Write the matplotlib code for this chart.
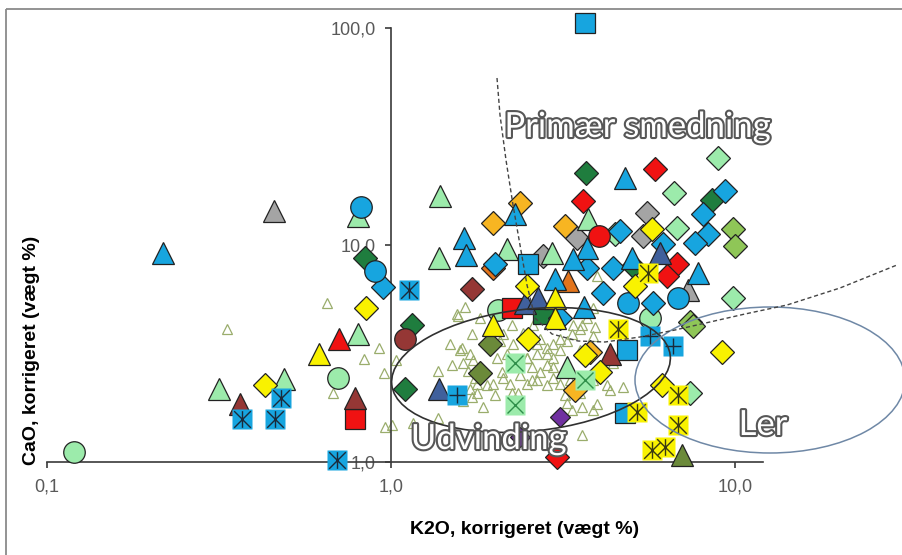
import matplotlib
matplotlib.use("Agg")
import numpy as np
import matplotlib.pyplot as plt
import matplotlib.patheffects as pe
from matplotlib.patches import Ellipse, Rectangle
from matplotlib.path import Path
from matplotlib.transforms import Affine2D
from matplotlib.ticker import NullLocator

# K2O (x) and CaO (y), both corrected weight %
blue_diamonds = [(0.95, 6.4), (2.01, 8.2), (3.71, 7.8), (4.42, 7.8), (4.13, 6.0), (5.78, 5.4),
                 (6.18, 10.1), (8.07, 13.9), (8.35, 11.2), (7.65, 10.2), (9.35, 17.7), (4.63, 11.6),
                 (3.10, 4.6)]
blue_triangles = [(0.217, 9.2), (1.63, 10.8), (1.65, 9.0), (2.29, 13.9), (4.79, 20.3), (3.00, 7.0),
                  (3.71, 9.7), (5.02, 8.7), (7.80, 7.4), (3.64, 5.2), (3.38, 8.6)]
blue_circles = [(0.82, 14.9), (0.90, 7.6), (4.89, 5.4), (6.83, 5.7)]
blue_squares = [(3.66, 105.0), (2.50, 8.2), (4.85, 3.27), (4.79, 1.68)]
blue_star_squares = [(1.13, 6.2), (0.369, 1.57), (0.46, 1.57), (0.479, 1.97), (0.697, 1.02)]
blue_plus_squares = [(1.555, 2.03), (5.66, 3.8), (6.60, 3.44)]

lgreen_triangles = [(0.80, 13.6), (1.39, 16.8), (1.38, 8.7), (2.17, 9.6), (2.94, 9.2), (3.74, 13.2),
                    (0.80, 3.9), (0.316, 2.16), (0.49, 2.4), (3.25, 2.73)]
lgreen_circles = [(0.12, 1.11), (0.70, 2.45), (5.66, 4.6), (2.05, 5.0)]
lgreen_diamonds = [(8.9, 25.1), (6.65, 17.3), (4.48, 11.2), (6.78, 12.0), (9.87, 5.7), (7.40, 2.07)]
lgreen_x_squares = [(2.29, 2.85), (2.29, 1.83), (3.66, 2.38)]

dgreen_diamonds = [(0.84, 8.7), (1.15, 4.3), (1.10, 2.16), (3.69, 21.4), (8.57, 16.1), (5.05, 8.0)]
dgreen_squares = [(2.77, 4.8)]
olive_diamonds = [(9.87, 11.8), (10.0, 9.9), (7.40, 4.4), (7.55, 4.25)]
dolive_diamonds = [(1.94, 3.5), (1.81, 2.56)]
dolive_triangles = [(7.01, 1.08)]

orange_diamonds = [(2.37, 15.6), (1.98, 12.6), (3.2, 12.2), (3.43, 2.14), (3.8, 3.2)]
rust_diamonds = [(1.98, 7.8)]
rust_triangles = [(3.27, 6.8)]
gray_diamonds = [(2.77, 8.9), (3.47, 10.8), (5.55, 14.0), (5.40, 11.0)]
gray_triangles = [(0.457, 14.3), (7.30, 6.2)]

red_diamonds = [(5.85, 22.3), (3.62, 15.9), (6.78, 8.2), (6.34, 7.2), (3.04, 1.05)]
red_circles = [(4.03, 11.0)]
red_triangles = [(0.706, 3.67)]
red_squares = [(0.786, 1.57), (2.25, 5.1)]
dred_triangles = [(0.364, 1.86), (0.786, 1.97), (4.33, 3.16)]
dred_diamonds = [(1.72, 6.3)]
dred_circles = [(1.10, 3.7)]

yellow_diamonds = [(0.846, 5.1), (0.43, 2.26), (2.49, 6.5), (2.50, 3.7), (5.12, 6.5), (3.66, 3.1),
                   (4.05, 2.59), (9.17, 3.2), (6.14, 2.26), (5.74, 11.8)]
yellow_triangles = [(0.618, 3.16), (1.98, 4.3), (3.0, 5.7), (3.0, 4.6)]
yellow_star_squares = [(4.57, 4.1), (5.59, 7.4), (5.19, 1.70), (6.83, 2.03), (6.83, 1.48),
                       (5.74, 1.14), (6.26, 1.17)]
slate_triangles = [(1.38, 2.18), (2.45, 5.4), (2.68, 5.7), (6.05, 9.2)]
purple_diamonds = [(3.10, 1.61), (2.37, 1.30)]

# the many small slag-inclusion measurements
small_triangles = [
    (0.334, 4.1), (0.652, 5.4), (0.923, 3.37), (0.835, 2.97), (0.954, 2.56), (1.034, 2.94),
    (0.678, 2.07), (0.961, 1.45), (1.007, 1.48), (1.159, 1.51), (1.37, 1.59), (1.641, 5.2),
    (1.566, 4.7), (1.72, 3.9), (1.484, 3.5), (1.608, 3.37), (1.697, 3.16), (1.731, 2.94),
    (1.504, 2.79), (1.37, 2.64), (1.675, 2.64), (1.754, 2.43), (1.697, 2.18), (1.72, 1.99),
    (1.90, 2.26), (1.98, 2.30), (2.10, 2.59), (2.03, 3.0), (2.17, 3.16), (2.26, 3.5),
    (2.12, 3.9), (2.25, 4.3), (2.71, 3.7), (2.84, 3.37), (2.66, 3.16), (2.49, 3.0),
    (2.57, 2.73), (2.71, 2.59), (2.84, 2.79), (2.96, 3.0), (3.10, 3.27), (3.25, 3.63),
    (3.36, 3.9), (2.37, 2.51), (2.49, 2.30), (2.22, 2.30), (2.34, 2.09), (2.66, 2.38),
    (2.84, 2.26), (2.96, 2.43), (3.10, 2.30), (3.31, 2.38), (3.2, 2.03), (3.47, 2.14),
    (3.36, 1.73), (3.59, 1.79), (1.48, 2.03), (1.62, 1.92), (2.01, 2.03), (1.85, 1.79),
    (3.97, 7.2), (3.87, 3.8), (3.54, 3.27), (4.42, 2.85), (3.87, 2.38), (4.25, 2.26),
    (4.73, 2.21), (3.97, 1.86), (3.59, 1.33), (3.54, 2.09), (1.555, 4.8), (1.587, 3.27),
    (1.62, 2.85), (1.78, 2.30), (2.12, 2.45), (2.49, 3.03), (2.84, 3.16), (2.96, 3.5),
    (3.10, 3.7), (3.38, 4.3), (3.54, 4.1), (3.71, 4.6), (3.87, 5.1), (2.84, 4.6),
    (2.59, 4.3), (2.42, 3.95), (2.07, 3.63), (2.66, 3.5), (2.96, 2.73), (2.25, 2.09),
    (1.78, 2.07), (3.25, 1.88), (4.33, 2.14), (3.87, 1.73), (3.14, 4.6), (3.6, 4.3),
    (3.92, 4.2), (2.57, 2.38), (1.81, 4.6),
]

W, H = 903, 555
fig = plt.figure(figsize=(W / 100, H / 100), dpi=100)
ax = fig.add_axes([47 / W, 1 - 462 / H, 716 / W, 434 / H])
ax.set_xscale("log")
ax.set_yscale("log")
ax.set_xlim(0.1, 12.06)
ax.set_ylim(1, 100)

# pixel space of the figure, y downwards, for the drawn regions
pix = Affine2D().scale(1 / W, -1 / H).translate(0, 1) + fig.transFigure

BLUE = "#17a5df"
LGREEN = "#9cebab"
DGREEN = "#1f7d3e"
OLIVE = "#8fc657"
DOLIVE = "#6b8a3a"
ORANGE = "#f7b522"
RUST = "#e2741c"
GRAY = "#a4a4a4"
RED = "#f01212"
DRED = "#953735"
YELLOW = "#f9f200"
SLATE = "#40609c"
PURPLE = "#7030a0"
EDGE = "#222222"

star = Path([(0, -1), (0, 1), (-1, -1), (1, 1), (-1, 1), (1, -1)],
            [Path.MOVETO, Path.LINETO, Path.MOVETO, Path.LINETO, Path.MOVETO, Path.LINETO])


def pts(data):
    a = np.array(data, dtype=float)
    return a[:, 0], a[:, 1]


def filled(data, marker, color, size, z=3):
    x, y = pts(data)
    ax.plot(x, y, ls="none", marker=marker, ms=size, mfc=color, mec=EDGE, mew=0.9, zorder=z,
            clip_on=False)


def boxed(data, color, glyph, glyph_color, z=4):
    x, y = pts(data)
    ax.plot(x, y, ls="none", marker="s", ms=14, mfc=color, mec="none", zorder=z, clip_on=False)
    ax.plot(x, y, ls="none", marker=glyph, ms=12, mfc="none", mec=glyph_color, mew=1.0, zorder=z,
            clip_on=False)


sx, sy = pts(small_triangles)
ax.plot(sx, sy, ls="none", marker="^", ms=6.5, mfc="none", mec="#9aad6c", mew=0.9, zorder=2)

DS, TS, CS, SS = 12.5, 16, 15.5, 14
filled(gray_diamonds, "D", GRAY, DS)
filled(gray_triangles, "^", GRAY, TS)
filled(orange_diamonds, "D", ORANGE, DS)
filled(rust_diamonds, "D", RUST, DS)
filled(rust_triangles, "^", RUST, TS)
filled(dgreen_diamonds, "D", DGREEN, DS)
filled(dgreen_squares, "s", DGREEN, SS)
filled(olive_diamonds, "D", OLIVE, DS)
filled(dolive_diamonds, "D", DOLIVE, DS)
filled(dolive_triangles, "^", DOLIVE, TS)
filled(lgreen_triangles, "^", LGREEN, TS)
filled(lgreen_circles, "o", LGREEN, CS)
filled(lgreen_diamonds, "D", LGREEN, DS)
filled(blue_diamonds, "D", BLUE, DS)
filled(blue_triangles, "^", BLUE, TS)
filled(blue_circles, "o", BLUE, CS)
filled(blue_squares, "s", BLUE, SS)
filled(red_diamonds, "D", RED, DS)
filled(red_circles, "o", RED, CS)
filled(red_triangles, "^", RED, TS)
filled(red_squares, "s", RED, SS)
filled(dred_triangles, "^", DRED, TS)
filled(dred_diamonds, "D", DRED, DS)
filled(dred_circles, "o", DRED, CS)
filled(slate_triangles, "^", SLATE, TS)
filled(purple_diamonds, "D", PURPLE, 10)
filled(yellow_diamonds, "D", YELLOW, DS)
filled(yellow_triangles, "^", YELLOW, TS)
boxed(lgreen_x_squares, LGREEN, "x", "#2f8f4a")
boxed(blue_star_squares, BLUE, star, "#1a2a3a")
boxed(blue_plus_squares, BLUE, "+", "#1a2a3a")
boxed(yellow_star_squares, YELLOW, star, "#3a3a10")

# axes: y axis crosses at K2O = 1
for side in ("top", "right"):
    ax.spines[side].set_visible(False)
ax.spines["left"].set_position(("data", 1))
for side in ("left", "bottom"):
    ax.spines[side].set_color("#3a3a3a")
    ax.spines[side].set_linewidth(1.2)
ax.set_xticks([0.1, 1, 10])
ax.set_xticklabels(["0,1", "1,0", "10,0"])
ax.set_yticks([1, 10, 100])
ax.set_yticklabels(["1,0", "10,0", "100,0"])
ax.xaxis.set_minor_locator(NullLocator())
ax.yaxis.set_minor_locator(NullLocator())
ax.tick_params(direction="out", length=4, width=1.2, color="#3a3a3a",
               labelsize=13, labelcolor="#595959")
ax.tick_params(axis="x", pad=8)
ax.tick_params(axis="y", pad=7)
for lab in ax.get_xticklabels() + ax.get_yticklabels():
    lab.set_fontfamily("Liberation Sans")

fig.text(525 / W, 1 - 529 / H, "K2O, korrigeret (vægt %)", ha="center", va="center",
         fontsize=14, fontweight="bold", family="Liberation Sans")
fig.text(32 / W, 1 - 350 / H, "CaO, korrigeret (vægt %)", ha="center", va="center",
         rotation=90, fontsize=14, fontweight="bold", family="Liberation Sans")

# field boundaries
ax.add_patch(Ellipse((531, 370), 280, 122, angle=-6, transform=pix, fill=False,
                     ec="#303030", lw=1.2, zorder=6, clip_on=False))
ax.add_patch(Ellipse((770, 380), 270, 146, transform=pix, fill=False,
                     ec="#6f88a6", lw=1.1, zorder=6, clip_on=False))
bx = [497, 500, 506, 513, 520, 527, 535, 552, 578, 605, 640, 675, 710, 745, 787, 840, 897]
by = [78, 115, 160, 205, 245, 285, 318, 334, 341, 342, 337, 330, 322, 314, 305, 288, 265]
ax.plot(bx, by, transform=pix, color="#444444", lw=1.0, ls=(0, (3, 2)), zorder=6, clip_on=False)

outline = [pe.withStroke(linewidth=3, foreground="#575757")]
for label, cx, cy in [("Primær smedning", 638, 137), ("Udvinding", 489, 449), ("Ler", 763, 435)]:
    fig.text(cx / W, 1 - cy / H, label, ha="center", va="baseline", fontsize=25,
             family="Lato", color="white", path_effects=outline, zorder=10)

# chart frame
fig.add_artist(Rectangle((6.5, 8.5), 1000, 1000, transform=pix, fill=False,
                         ec="#8a8a8a", lw=1.3))

fig.savefig("out.png", dpi=100)
